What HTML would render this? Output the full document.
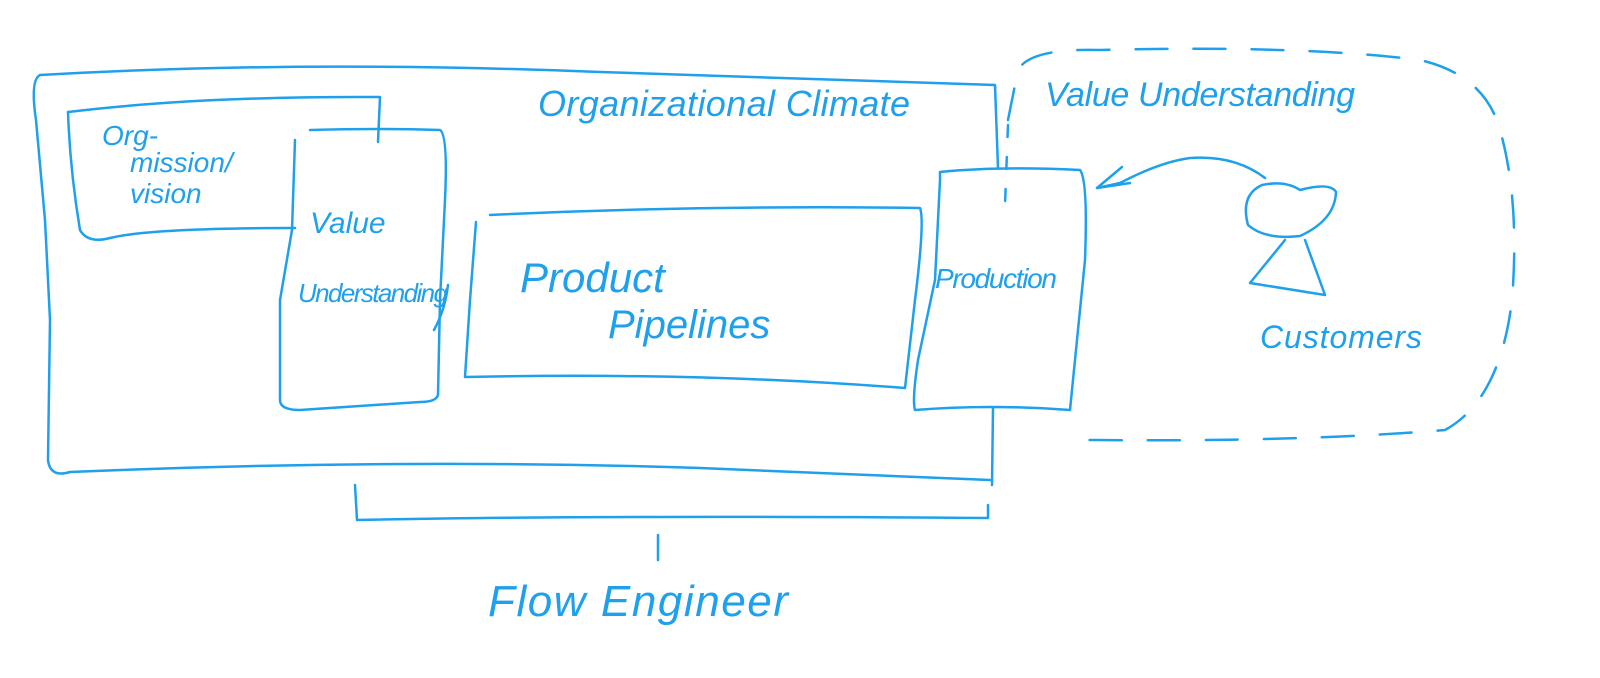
<!DOCTYPE html>
<html><head><meta charset="utf-8"><style>
html,body{margin:0;padding:0;background:#fff;}
svg{display:block;}
text{font-family:"Liberation Sans",sans-serif;font-style:italic;fill:#1ea0ec;}
</style></head><body>
<svg width="1600" height="678" viewBox="0 0 1600 678" xmlns="http://www.w3.org/2000/svg">
<g fill="none" stroke="#1ea0ec" stroke-width="2.5" stroke-linecap="round" stroke-linejoin="round">
<path d="M40,75 Q300,60 600,72 Q800,78 995,85 L998,168"/>
<path d="M40,75 Q30,80 36,120 L45,220 L50,320 L48,460 Q50,478 70,472 Q400,458 700,468 L990,480"/>
<path d="M993,408 L992,485"/>
<path d="M68,112 Q200,96 380,97 L378,142"/>
<path d="M68,112 Q70,170 80,230 Q88,244 110,238 Q150,228 295,228"/>
<path d="M310,130 Q380,128 440,130 Q448,135 445,200 L440,300 L438,395 Q436,402 420,402 L300,410 Q280,410 280,400 L280,300 L292,230 L295,140"/>
<path d="M448,285 Q445,310 434,330"/>
<path d="M490,215 Q700,205 920,208 Q925,220 915,300 L905,388 Q700,372 465,377 L470,300 L476,222"/>
<path d="M940,172 Q1000,166 1080,170 Q1088,180 1085,260 L1070,410 Q990,404 915,410 Q912,400 918,360 L935,280 L940,180 Z"/>
<path d="M1008,120 L1018,70 Q1030,48 1100,50 Q1300,45 1420,60 Q1485,75 1500,130 Q1520,200 1512,300 Q1500,400 1445,430 Q1300,442 1095,440 L1068,440" stroke-dasharray="32,26"/>
<path d="M1008,125 L1005,205" stroke-dasharray="12,20"/>
<path d="M1262,185 Q1240,195 1248,225 Q1265,240 1300,236 Q1335,220 1336,192 Q1330,182 1300,190 Q1285,180 1262,185 Z"/>
<path d="M1285,240 L1250,283 L1325,295 L1305,240"/>
<path d="M1265,178 Q1235,155 1190,158 Q1160,162 1120,183 L1097,188"/>
<path d="M1122,167 L1097,188 L1130,183"/>
<path d="M355,485 L357,520 Q600,515 988,518 L988,505"/>
<path d="M658,535 L658,560"/>
</g>
<text x="538" y="116" font-size="36" textLength="372">Organizational Climate</text>
<text x="1045" y="106" font-size="34" textLength="310">Value Understanding</text>
<text x="102" y="145" font-size="28">Org-</text>
<text x="130" y="172" font-size="28">mission/</text>
<text x="130" y="203" font-size="28">vision</text>
<text x="310" y="233" font-size="30">Value</text>
<text x="298" y="302" font-size="26" textLength="150">Understanding</text>
<text x="520" y="292" font-size="42">Product</text>
<text x="608" y="338" font-size="40">Pipelines</text>
<text x="935" y="288" font-size="28" textLength="122">Production</text>
<text x="1260" y="348" font-size="32" textLength="162">Customers</text>
<text x="488" y="616" font-size="44" textLength="300">Flow Engineer</text>
</svg>
</body></html>
